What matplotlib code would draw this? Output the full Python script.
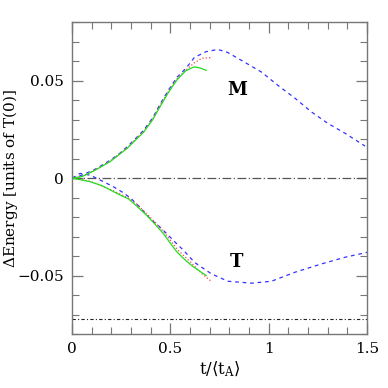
import numpy as np
import matplotlib.pyplot as plt
from matplotlib.ticker import MultipleLocator

# M curves (energy gain)
t_m_blue = [0, 0.04, 0.109, 0.15, 0.194, 0.24, 0.279, 0.32, 0.364, 0.41, 0.449, 0.49, 0.534, 0.577,
            0.622, 0.68, 0.74, 0.79, 0.878, 0.964, 1.046, 1.133, 1.219, 1.30, 1.388, 1.49]
m_blue = [0, 0.0012, 0.0041, 0.0065, 0.0092, 0.0125, 0.016, 0.02, 0.0246, 0.031, 0.0382, 0.0452,
          0.0518, 0.0561, 0.0619, 0.0648, 0.066, 0.0645, 0.0594, 0.0543, 0.0476, 0.041, 0.0338,
          0.0281, 0.023, 0.0164]
t_m_red = [0, 0.05, 0.109, 0.194, 0.279, 0.364, 0.41, 0.449, 0.49, 0.534, 0.58, 0.62, 0.66, 0.713]
m_red = [0, 0.0008, 0.0038, 0.0088, 0.0155, 0.024, 0.0305, 0.0375, 0.0445, 0.051, 0.0555, 0.059,
         0.0615, 0.0618]
t_m_green = [0, 0.05, 0.109, 0.194, 0.279, 0.364, 0.41, 0.449, 0.49, 0.534, 0.577, 0.619, 0.65, 0.682]
m_green = [0, 0.0008, 0.0036, 0.0085, 0.0152, 0.0236, 0.03, 0.037, 0.044, 0.0505, 0.055, 0.057,
           0.0565, 0.0553]

# T curves (energy loss)
t_t_blue = [0, 0.04, 0.092, 0.143, 0.209, 0.26, 0.3, 0.35, 0.398, 0.44, 0.483, 0.525, 0.568, 0.622,
            0.708, 0.792, 0.912, 1.014, 1.133, 1.269, 1.388, 1.505]
t_blue = [0, 0.0024, 0.0015, -0.001, -0.0044, -0.0075, -0.0105, -0.0155, -0.021, -0.0245, -0.0287,
          -0.033, -0.0372, -0.0432, -0.0491, -0.0529, -0.0539, -0.0529, -0.0483, -0.044, -0.0406,
          -0.038]
t_t_red = [0, 0.05, 0.092, 0.194, 0.25, 0.287, 0.33, 0.381, 0.42, 0.466, 0.534, 0.619, 0.66, 0.708]
t_red = [0, -0.0008, -0.0017, -0.0058, -0.0085, -0.0103, -0.0135, -0.0185, -0.0225, -0.0275,
         -0.0365, -0.0448, -0.049, -0.053]
t_t_green = [0, 0.05, 0.092, 0.15, 0.194, 0.24, 0.287, 0.33, 0.381, 0.42, 0.466, 0.5, 0.534, 0.58,
             0.619, 0.682]
t_green = [0, -0.001, -0.0019, -0.0038, -0.0061, -0.0085, -0.0107, -0.0145, -0.0193, -0.0235,
           -0.0287, -0.0335, -0.038, -0.0425, -0.0457, -0.05]

ref_line = -0.0722

plt.rcParams['font.family'] = 'DejaVu Serif'
plt.rcParams['mathtext.fontset'] = 'dejavuserif'

fig = plt.figure(figsize=(3.88, 3.88), dpi=100)
ax = fig.add_axes([0.186, 0.139, 0.76, 0.804])

ax.axhline(0, color='#555555', lw=0.9, dashes=(7, 2, 1, 2))
ax.axhline(ref_line, color='#222222', lw=0.8, dashes=(3, 2, 1, 2))

ax.plot(t_m_blue, m_blue, color='#3333ff', lw=0.9, dashes=(3, 3))
ax.plot(t_t_blue, t_blue, color='#3333ff', lw=0.9, dashes=(3, 3))
ax.plot(t_m_red, m_red, color='#ff4040', lw=0.9, ls=':')
ax.plot(t_t_red, t_red, color='#ff4040', lw=0.9, ls=':')
ax.plot(t_m_green, m_green, color='#22dd22', lw=0.9)
ax.plot(t_t_green, t_green, color='#22dd22', lw=0.9)

ax.text(0.84, 0.045, 'M', fontsize=13, fontweight='bold', ha='center', va='center')
ax.text(0.835, -0.043, 'T', fontsize=13, fontweight='bold', ha='center', va='center')

ax.set_xlim(0, 1.5)
ax.set_ylim(-0.08, 0.08)
ax.xaxis.set_minor_locator(MultipleLocator(0.1))
ax.yaxis.set_minor_locator(MultipleLocator(0.01))
ax.set_xticks([0, 0.5, 1, 1.5])
ax.set_xticklabels(['0', '0.5', '1', '1.5'])
ax.set_yticks([-0.05, 0, 0.05])
ax.set_yticklabels(['\u22120.05', '0', '0.05'])
ax.tick_params(which='both', direction='in', top=True, right=True, colors='#777777',
               labelcolor='black', labelsize=11)
ax.tick_params(which='major', length=8, width=0.9, pad=6)
ax.tick_params(which='minor', length=5, width=0.8)
for s in ax.spines.values():
    s.set_color('#777777')
    s.set_linewidth(1.0)

ax.set_xlabel(r'$\mathrm{t}/\langle \mathrm{t}_{\mathrm{A}}\rangle$', fontsize=12, labelpad=2)
ax.set_ylabel(r'$\Delta$Energy [units of T(0)]', fontsize=11)
ax.yaxis.set_label_coords(-0.178, 0.5)

fig.savefig('out.png', dpi=100)
